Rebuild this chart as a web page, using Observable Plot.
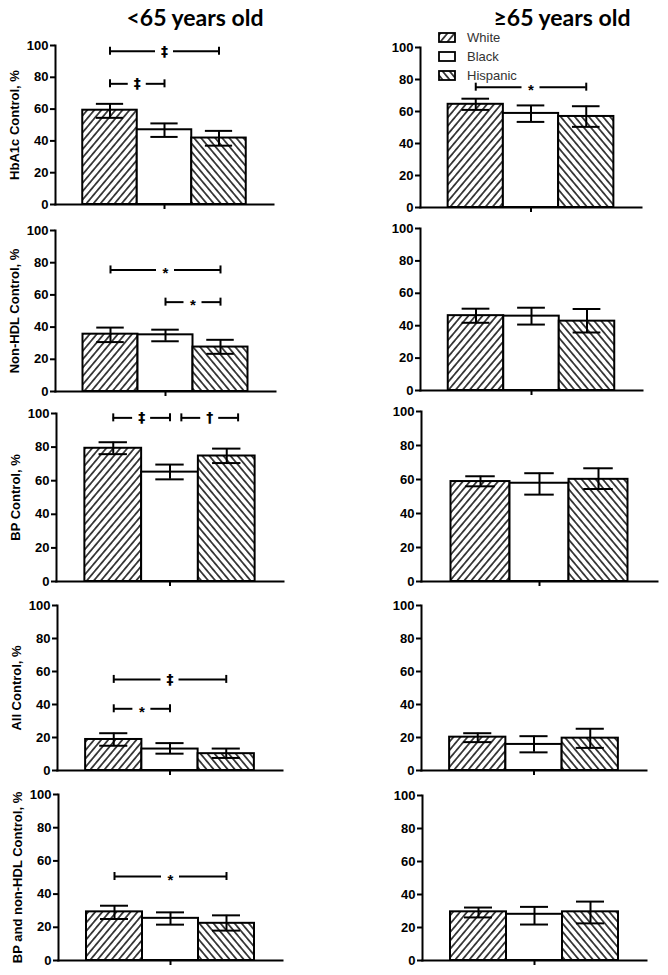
<!DOCTYPE html>
<html><head><meta charset="utf-8">
<script src="https://cdn.jsdelivr.net/npm/d3@7"></script>
<script src="https://cdn.jsdelivr.net/npm/@observablehq/plot@0.6"></script>
<style>
body{margin:0;background:#fff;}
#fig{position:relative;width:668px;height:975px;overflow:hidden;background:#fff;font-family:"Liberation Sans",Arial,sans-serif;}
.panel{position:absolute;}
.panel svg line, .panel svg path{stroke-width:2px;}
.title{position:absolute;top:3px;font-family:Lato,"Open Sans",sans-serif;font-weight:bold;font-size:23px;white-space:nowrap;transform:translateX(-50%);color:#000;}
.legend{position:absolute;left:438px;top:28px;font-size:13px;color:#333;z-index:2;}
.legend .item{display:flex;align-items:center;height:19px;}
.legend svg{margin-right:11px;display:block;}
</style></head><body>
<svg width="0" height="0" style="position:absolute">
<defs>
<pattern id="hatchW" patternUnits="userSpaceOnUse" width="5.4" height="10" patternTransform="rotate(40)">
<rect width="5.4" height="10" fill="white"/><line x1="2.7" y1="0" x2="2.7" y2="10" stroke="black" stroke-width="1.4"/>
</pattern>
<pattern id="hatchH" patternUnits="userSpaceOnUse" width="5.4" height="10" patternTransform="rotate(-40)">
<rect width="5.4" height="10" fill="white"/><line x1="2.7" y1="0" x2="2.7" y2="10" stroke="black" stroke-width="1.4"/>
</pattern>
</defs>
</svg>
<div id="fig"></div>
<script>
// ---------- data ----------
const groups = ["White", "Black", "Hispanic"];
const groupFills = ["url(#hatchW)", "white", "url(#hatchH)"];
const ageTitles = ["<65 years old", "≥65 years old"];
const measureLabels = ["HbA1c Control, %", "Non-HDL Control, %", "BP Control, %", "All Control, %", "BP and non-HDL Control, %"];
const yTicks = [0, 20, 40, 60, 80, 100];

// <65 years old: rows = measures, columns = [White, Black, Hispanic]
const youngMean = [[59.3, 47.0, 41.8], [35.6, 35.2, 27.6], [79.3, 65.1, 74.7], [18.8, 13.0, 10.2], [29.3, 25.4, 22.4]];
const youngLow  = [[54.5, 42.5, 37.0], [30.7, 31.2, 23.4], [75.8, 60.8, 70.5], [15.0, 10.2, 7.6], [25.0, 21.6, 18.0]];
const youngHigh = [[63.3, 51.0, 46.3], [39.7, 38.4, 32.1], [82.9, 69.6, 79.1], [22.6, 16.6, 13.3], [33.0, 29.0, 27.2]];
// >=65 years old
const oldMean = [[64.5, 58.8, 56.9], [46.2, 45.9, 42.8], [58.8, 57.8, 60.1], [20.2, 15.8, 19.6], [29.5, 28.0, 29.5]];
const oldLow  = [[61.0, 53.5, 50.4], [41.8, 40.7, 35.8], [56.0, 51.1, 54.4], [17.2, 11.0, 13.7], [26.1, 21.8, 22.5]];
const oldHigh = [[68.0, 63.8, 63.3], [50.5, 51.1, 50.3], [61.9, 63.7, 66.6], [22.6, 20.8, 25.3], [32.1, 32.5, 35.7]];

// significance brackets: measure index, compared groups, symbol, bracket level (%)
const youngSig = [
  {measure: 0, from: "White", to: "Hispanic", mark: "‡", level: 96.4},
  {measure: 0, from: "White", to: "Black", mark: "‡", level: 75.9},
  {measure: 1, from: "White", to: "Hispanic", mark: "*", level: 75.5},
  {measure: 1, from: "Black", to: "Hispanic", mark: "*", level: 55.5},
  {measure: 2, from: "White", to: "Black", mark: "‡", level: 97.4},
  {measure: 2, from: "Black", to: "Hispanic", mark: "†", level: 97.4},
  {measure: 3, from: "White", to: "Hispanic", mark: "‡", level: 55.2},
  {measure: 3, from: "White", to: "Black", mark: "*", level: 37.4},
  {measure: 4, from: "White", to: "Hispanic", mark: "*", level: 50.6}
];
const oldSig = [
  {measure: 0, from: "White", to: "Hispanic", mark: "*", level: 75.2}
];

// ---------- layout (page pixels): [y-axis x, x-axis end, y of 100, y of 0] ----------
const panelBoxes = [
  [[55, 273, 45, 204], [55, 275, 230, 391], [56, 283, 413, 581], [57, 282, 605, 770], [58, 282, 794, 960]],
  [[420, 641, 47, 207], [420, 642, 228, 390], [421, 657, 411, 581], [421, 646, 605, 770], [422, 646, 795, 960]]
];
const M = {left: 60, right: 8, top: 14, bottom: 12};

const fig = document.getElementById("fig");
const titleX = [195, 562];
ageTitles.forEach((t, c) => {
  const d = document.createElement("div");
  d.className = "title";
  d.style.left = titleX[c] + "px";
  d.textContent = t;
  fig.appendChild(d);
});

const sets = [
  {mean: youngMean, low: youngLow, high: youngHigh, sig: youngSig},
  {mean: oldMean, low: oldLow, high: oldHigh, sig: oldSig}
];

sets.forEach((S, c) => {
  measureLabels.forEach((label, r) => {
    const [ax, ex, y100, y0] = panelBoxes[c][r];
    const rows = groups.map((g, i) => ({group: g, i, mean: S.mean[r][i], lo: S.low[r][i], hi: S.high[r][i]}));
    const br = S.sig.filter(s => s.measure === r).map(s => ({...s, x1: groups.indexOf(s.from), x2: groups.indexOf(s.to)}));
    br.forEach(b => {
      if (br.some(o => o !== b && o.level === b.level && o.x2 === b.x1)) { b.x1 += 0.2; b.x2 += 0.2; }
      b.mid = (b.x1 + b.x2) / 2;
    });
    const marks = [
      Plot.rectY(rows, {x1: d => d.i - 0.5, x2: d => d.i + 0.5, y1: 0, y2: "mean", fill: "group", stroke: "black", strokeWidth: 2}),
      Plot.ruleX(rows, {x: "i", y1: "lo", y2: "hi", stroke: "black"}),
      Plot.ruleY(rows, {y: "hi", x1: d => d.i - 0.25, x2: d => d.i + 0.25, stroke: "black"}),
      Plot.ruleY(rows, {y: "lo", x1: d => d.i - 0.25, x2: d => d.i + 0.25, stroke: "black"}),
      Plot.ruleY(br, {y: "level", x1: "x1", x2: "mid", insetRight: 9, stroke: "black"}),
      Plot.ruleY(br, {y: "level", x1: "mid", x2: "x2", insetLeft: 9, stroke: "black"}),
      Plot.ruleX(br, {x: "x1", y1: "level", y2: "level", insetTop: -4, insetBottom: -4, stroke: "black"}),
      Plot.ruleX(br, {x: "x2", y1: "level", y2: "level", insetTop: -4, insetBottom: -4, stroke: "black"}),
      Plot.text(br.filter(b => b.mark === "*"), {x: "mid", y: "level", text: "mark", fontSize: 15, fontWeight: "bold", dy: 3.5, fill: "black"}),
      Plot.text(br.filter(b => b.mark !== "*"), {x: "mid", y: "level", text: "mark", fontSize: 14, fontFamily: "'DejaVu Sans', sans-serif", fontWeight: "bold", dy: 0, fill: "black"})
    ];
    if (c === 0) {
      marks.push(Plot.text([label], {frameAnchor: "left", textAnchor: "middle", rotate: -90, dx: -41, text: d => d, fontSize: 13, fontWeight: "bold", fill: "black"}));
    }
    const plot = Plot.plot({
      width: M.left + (ex - ax) + M.right,
      height: M.top + (y0 - y100) + M.bottom,
      marginLeft: M.left, marginRight: M.right, marginTop: M.top, marginBottom: M.bottom,
      style: {fontFamily: "'Liberation Sans', Arial, sans-serif", fontSize: "13px", fontWeight: "bold", background: "transparent", overflow: "visible", color: "black"},
      x: {domain: [-1, 3], ticks: [1], tickFormat: () => "", tickSize: 5, line: true, label: null},
      y: {domain: [0, 100], ticks: yTicks, tickSize: 5, tickPadding: 2, line: true, label: null},
      color: {type: "ordinal", domain: groups, range: groupFills},
      marks
    });
    const wrap = document.createElement("div");
    wrap.className = "panel";
    wrap.style.left = (ax - M.left) + "px";
    wrap.style.top = (y100 - M.top) + "px";
    wrap.appendChild(plot);
    fig.appendChild(wrap);
  });
});

// legend (top-right panel)
const legend = document.createElement("div");
legend.className = "legend";
groups.forEach((g, i) => {
  const item = document.createElement("div");
  item.className = "item";
  item.innerHTML = `<svg width="18" height="11"><rect x="1" y="1" width="16" height="9" fill="${groupFills[i]}" stroke="black" stroke-width="1.8"/></svg><span>${g}</span>`;
  legend.appendChild(item);
});
fig.appendChild(legend);
</script>
</body></html>
